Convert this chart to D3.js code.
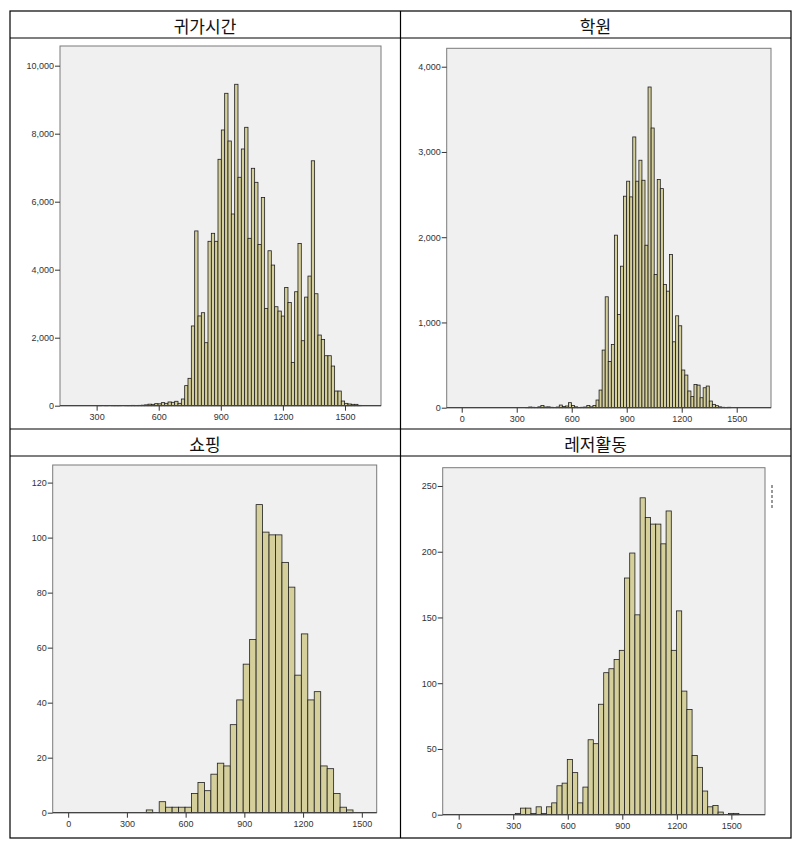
<!DOCTYPE html>
<html><head><meta charset="utf-8">
<script src="https://cdn.jsdelivr.net/npm/d3@7/dist/d3.min.js"></script>
<style>body{margin:0;background:#fff}svg{display:block}</style>
</head><body>
<svg id="c" width="798" height="848"></svg>
<script>
// ---- data ----
const titles = ["귀가시간", "학원", "쇼핑", "레저활동"];

// 귀가시간 histogram (bin start, bin width, counts)
const homeBinStart = 306.8;
const homeBinWidth = 16.1;
const homeCounts = [5,0,3,0,5,3,5,0,8,5,10,8,
  10,15,25,45,40,60,55,90,70,110,100,130,70,
  197,590,805,2345,5140,2640,2735,1853,4835,5070,4835,7247,8109,9188,7785,5638,9453,6718,7550,8188,
  4923,6982,6570,4743,6125,2862,4557,4136,2911,2783,2636,3479,3038,1274,3352,4773,1911,3194,3812,7203,
  3293,2078,1950,1470,1470,1166,431,431,137,69,50,40,40,10];
const homeYTicks = [0, 2000, 4000, 6000, 8000, 10000];
const homeXTicks = [300, 600, 900, 1200, 1500];

// 학원
const academyBinStart = 331.7;
const academyBinWidth = 16.7;
const academyCounts = [0,3,8,5,3,10,25,8,10,5,3,8,31,15,20,59,25,10,3,5,8,27,10,27,
  90,207,676,1301,541,742,2024,1094,1660,2481,2657,2473,3176,2657,2903,2668,1906,3762,3281,1563,
  2676,2570,1446,1367,1797,773,1078,961,442,383,196,130,273,265,117,234,254,78,39,24,10,5,3,5];
const academyYTicks = [0, 1000, 2000, 3000, 4000];
const academyXTicks = [0, 300, 600, 900, 1200, 1500];

// 쇼핑
const shopBinStart = 399;
const shopBinWidth = 33;
const shopCounts = [1,0,4,2,2,2,2,7,11,8,14,18,17,32,41,54,63,112,102,101,101,91,82,50,65,41,44,17,16,7,2,1];
const shopYTicks = [0, 20, 40, 60, 80, 100, 120];
const shopXTicks = [0, 300, 600, 900, 1200, 1500];

// 레저활동
const leisureBinStart = 311.5;
const leisureBinWidth = 28.6;
const leisureCounts = [1,5,5,1,6,1,6,9,22,24,42,32,9,21,57,54,84,108,111,118,125,180,199,152,241,226,221,221,206,231,125,155,94,80,45,36,18,6,7,2,0,1,1];
const leisureYTicks = [0, 50, 100, 150, 200, 250];
const leisureXTicks = [0, 300, 600, 900, 1200, 1500];

// ---- layout ----
const panels = [
  {title: titles[0], tx: 205, ty: 25, start: homeBinStart, width: homeBinWidth, counts: homeCounts,
   yt: homeYTicks, xt: homeXTicks, xd: [123, 1674], yd: [0, 10579], L: 60, R: 381, T: 46, B: 405.7},
  {title: titles[1], tx: 595.5, ty: 25, start: academyBinStart, width: academyBinWidth, counts: academyCounts,
   yt: academyYTicks, xt: academyXTicks, xd: [-82, 1687], yd: [0, 4216], L: 446.7, R: 771, T: 48.3, B: 407.7},
  {title: titles[2], tx: 205, ty: 443, start: shopBinStart, width: shopBinWidth, counts: shopCounts,
   yt: shopYTicks, xt: shopXTicks, xd: [-79, 1576], yd: [0, 126.4], L: 52.7, R: 376.7, T: 465, B: 812.7},
  {title: titles[3], tx: 595.5, ty: 443, start: leisureBinStart, width: leisureBinWidth, counts: leisureCounts,
   yt: leisureYTicks, xt: leisureXTicks, xd: [-88, 1685], yd: [0, 263.9], L: 442.7, R: 765, T: 467.7, B: 814.7}
];

const svg = d3.select("#c");
const fmt = d3.format(",");

panels.forEach(p => {
  const x = d3.scaleLinear().domain(p.xd).range([p.L, p.R]);
  const y = d3.scaleLinear().domain(p.yd).range([p.B, p.T]);
  const g = svg.append("g");
  // plot background
  g.append("rect").attr("x", p.L).attr("y", p.T).attr("width", p.R - p.L).attr("height", p.B - p.T)
    .attr("fill", "#f0f0f0").attr("stroke", "#7a7a7a").attr("stroke-width", 1);
  // bars
  const bins = p.counts.map((c, i) => ({x0: p.start + i * p.width, x1: p.start + (i + 1) * p.width, c}))
    .filter(d => d.c > 0);
  g.selectAll("rect.bar").data(bins).enter().append("rect").attr("class", "bar")
    .attr("x", d => x(d.x0)).attr("width", d => x(d.x1) - x(d.x0))
    .attr("y", d => y(d.c)).attr("height", d => y(0) - y(d.c))
    .attr("fill", "#d5cf9b").attr("stroke", "#1e1e1e").attr("stroke-width", 0.8);
  // axes
  const ya = g.append("g").attr("transform", `translate(${p.L},0)`)
    .call(d3.axisLeft(y).tickValues(p.yt).tickSize(5).tickPadding(1).tickFormat(fmt));
  const xa = g.append("g").attr("transform", `translate(0,${p.B})`)
    .call(d3.axisBottom(x).tickValues(p.xt).tickSize(5).tickPadding(3).tickFormat(d => d));
  [ya, xa].forEach(a => {
    a.select(".domain").remove();
    a.selectAll("line").attr("stroke", "#333");
    a.selectAll("text").attr("fill", "#333").style("font-family", "'Liberation Sans', Arial, sans-serif").style("font-size", "9px");
  });
  g.append("line").attr("x1", p.L).attr("x2", p.R).attr("y1", p.B).attr("y2", p.B)
    .attr("stroke", "#444").attr("stroke-width", 1.2);
  // title
  svg.append("text").attr("x", p.tx).attr("y", p.ty).attr("text-anchor", "middle").attr("dominant-baseline", "central")
    .style("font-family", "'Noto Sans CJK KR', sans-serif").style("font-size", "17px").attr("fill", "#111").text(p.title);
});

// small dashed remnant at right of 레저활동
svg.append("line").attr("x1", 772).attr("x2", 772).attr("y1", 485).attr("y2", 510)
  .attr("stroke", "#333").attr("stroke-dasharray", "3,2");

// table grid
const tbl = svg.append("g").attr("stroke", "#000").attr("stroke-width", 1.2).attr("fill", "none");
tbl.append("rect").attr("x", 10).attr("y", 11).attr("width", 781).attr("height", 827);
tbl.append("line").attr("x1", 400.5).attr("x2", 400.5).attr("y1", 11).attr("y2", 838);
[38, 429, 456].forEach(v => tbl.append("line").attr("x1", 10).attr("x2", 791).attr("y1", v).attr("y2", v));
</script>
</body></html>
